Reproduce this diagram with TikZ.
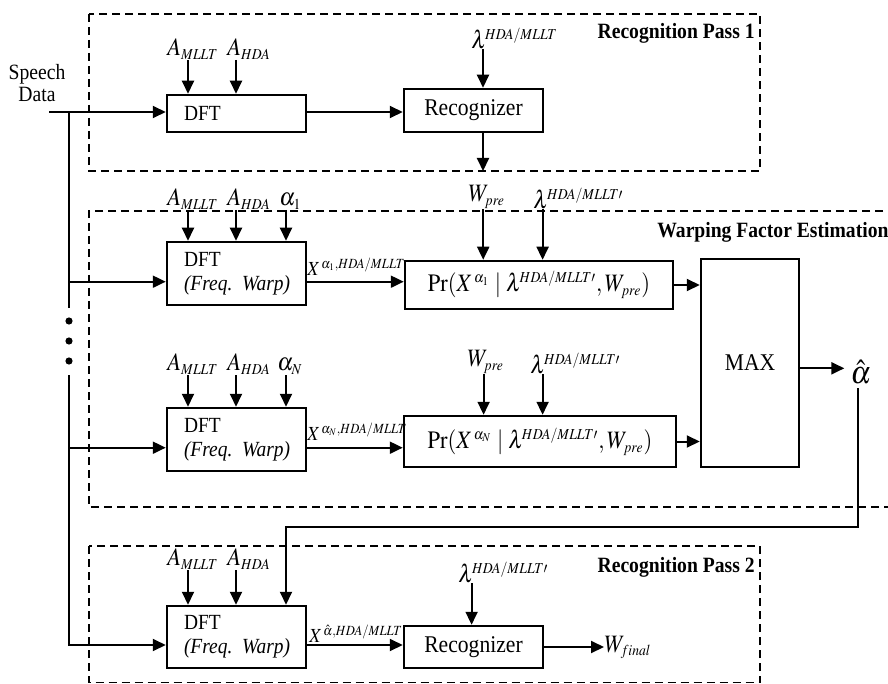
\documentclass[tikz,border=0pt]{standalone}
\usepackage{mathptmx}
\usepackage{fontspec}
\setmainfont{Liberation Serif}
\newfontfamily\tnr{Liberation Serif}
\usepackage{graphicx}
\usetikzlibrary{arrows.meta}
\DeclareMathSizes{12.5}{12.5}{7.6}{6}
\DeclareMathSizes{10}{10}{7}{5}
\DeclareMathSizes{16}{16}{11}{8}
\newcommand{\sq}[1]{\scalebox{0.9}[1]{#1}}
\newcommand{\inarr}[3]{\path ([xshift=#2]#1.south west) coordinate (tmpa); \draw[arr] (tmpa) -- (tmpa |- #3.north);}
\begin{document}
\begin{tikzpicture}[x=0.5pt,y=-0.5pt,
  box/.style={draw, line width=1.25pt, inner sep=0pt},
  dftbox/.style={box, minimum width=69.5pt, text width=52.5pt, inner xsep=8.5pt, align=left, font=\tnr\fontsize{10.8}{12}\selectfont},
  recbox/.style={box, font=\tnr\fontsize{12}{14}\selectfont},
  prbox/.style={box, font=\tnr\fontsize{12.5}{14}\selectfont},
  arr/.style={line width=1pt, -{Triangle[length=6.5pt,width=6pt]}},
  ln/.style={line width=1pt},
  dbox/.style={line width=0.8pt, dash pattern=on 4pt off 2.5pt},
  mlab/.style={font=\tnr\fontsize{12.5}{14}\selectfont, inner sep=0pt},
  xlab/.style={font=\tnr\fontsize{10}{12}\selectfont, inner sep=0pt},
  tlab/.style={font=\tnr\fontsize{10.9}{11}\selectfont, inner sep=0pt},
]
\useasboundingbox (0,0) rectangle (888,684);

% dashed frames
\draw[dbox] (89,14) rectangle (760,171);
\draw[dbox] (896,211) -- (89,211) -- (89,507) -- (896,507);
\draw[dbox] (89,546) rectangle (760,682.5);

% titles
\node[tlab, align=center] (speech) at (37,83) {\sq{Speech}\\\sq{Data}};
\node[tlab, anchor=east] (rp1) at (755,33) {\sq{\textbf{Recognition Pass 1}}};
\node[tlab, anchor=west] (wfe) at (657,232) {\sq{\textbf{Warping Factor Estimation}}};
\node[tlab, anchor=east] (rp2) at (755,567) {\sq{\textbf{Recognition Pass 2}}};

% boxes
\node[dftbox, minimum height=18.5pt] (dft1) at (236.5,113.5) {\sq{DFT}};
\node[recbox, minimum width=69.5pt, minimum height=21.5pt] (rec1) at (473.5,110.5) {\sq{Recognizer}};
\node[dftbox, minimum height=31.5pt] (dft2) at (236.5,273.5) {\sq{DFT}\\\sq{\textit{(Freq. Warp)}}};
\node[dftbox, minimum height=31.5pt] (dftN) at (236.5,439.5) {\sq{DFT}\\\sq{\textit{(Freq. Warp)}}};
\node[dftbox, minimum height=31pt] (dft3) at (236.5,637) {\sq{DFT}\\\sq{\textit{(Freq. Warp)}}};
\node[prbox, minimum width=134pt, minimum height=24pt] (pr1) at (539,285) {\sq{$\mathrm{Pr}(X^{\,\alpha_1}\mid\lambda^{\!HDA/MLLT\prime},W_{pre})$}};
\node[prbox, minimum width=136pt, minimum height=25.5pt] (prN) at (540,441.5) {\sq{$\mathrm{Pr}(X^{\,\alpha_N}\mid\lambda^{\!HDA/MLLT\prime},W_{pre})$}};
\node[recbox, minimum width=49pt, minimum height=104pt] (max) at (750,363) {\raisebox{-4.5pt}{\sq{MAX}}};
\node[recbox, minimum width=69.5pt, minimum height=21pt] (rec2) at (473.5,647) {\sq{Recognizer}};

% section 1 inputs
\node[mlab, anchor=south west] (am1) at (167,60) {\sq{$A_{MLLT}$}};
\node[mlab, anchor=south west] (ah1) at (227,60) {\sq{$A_{HDA}$}};
\node[mlab, anchor=south west] (lam1) at (471,49) {\sq{$\lambda^{\!HDA/MLLT}$}};
\inarr{am1}{10.5pt}{dft1}
\inarr{ah1}{4.5pt}{dft1}
\inarr{lam1}{6pt}{rec1}

% section 2 inputs
\node[mlab, anchor=south west] (am2) at (167,210) {\sq{$A_{MLLT}$}};
\node[mlab, anchor=south west] (ah2) at (227,210) {\sq{$A_{HDA}$}};
\node[mlab, anchor=south west] (al1) at (279,210) {\sq{$\alpha_1$}};
\node[mlab, anchor=south west] (wp1) at (468,209) {\sq{$W_{pre}$}};
\node[mlab, anchor=south west] (lp1) at (533,209) {\sq{$\lambda^{\!HDA/MLLT\prime}$}};
\inarr{am2}{10.5pt}{dft2}
\inarr{ah2}{4.5pt}{dft2}
\inarr{al1}{3.5pt}{dft2}
\inarr{wp1}{7.6pt}{pr1}
\inarr{lp1}{4.8pt}{pr1}

% section N inputs
\node[mlab, anchor=south west] (am3) at (167,375) {\sq{$A_{MLLT}$}};
\node[mlab, anchor=south west] (ah3) at (227,375) {\sq{$A_{HDA}$}};
\node[mlab, anchor=south west] (alN) at (277,375) {\sq{$\alpha_N$}};
\node[mlab, anchor=south west] (wp2) at (467,374) {\sq{$W_{pre}$}};
\node[mlab, anchor=south west] (lp2) at (530,374) {\sq{$\lambda^{\!HDA/MLLT\prime}$}};
\inarr{am3}{10.5pt}{dftN}
\inarr{ah3}{4.5pt}{dftN}
\inarr{alN}{4.5pt}{dftN}
\inarr{wp2}{8.3pt}{prN}
\inarr{lp2}{6.3pt}{prN}

% section 3 inputs
\node[mlab, anchor=south west] (am4) at (167,570) {\sq{$A_{MLLT}$}};
\node[mlab, anchor=south west] (ah4) at (227,570) {\sq{$A_{HDA}$}};
\node[mlab, anchor=south west] (lp3) at (458,583) {\sq{$\lambda^{\!HDA/MLLT\prime}$}};
\inarr{am4}{10.5pt}{dft3}
\inarr{ah4}{4.5pt}{dft3}
\inarr{lp3}{6.8pt}{rec2}

% feature labels
\node[xlab, anchor=south west] (x1) at (307,276) {\sq{$X^{\,\alpha_1,HDA/MLLT}$}};
\node[xlab, anchor=south west] (xN) at (307,441) {\sq{$X^{\,\alpha_N,HDA/MLLT}$}};
\node[xlab, anchor=south west] (x3) at (309,643) {\sq{$X^{\,\hat{\alpha},HDA/MLLT}$}};

% outputs
\node[mlab, anchor=base west] (wfin) at (604,652) {\sq{$W_{final}$}};
\node[font=\tnr\fontsize{16}{18}\selectfont, inner sep=3pt] (ahat) at (861,372) {\sq{$\hat{\alpha}$}};

% speech data distribution
\coordinate (sp) at (49,112);
\coordinate (j) at (69,112);
\coordinate (t1) at (69,308);
\coordinate (t2) at (69,375);
\coordinate (b1) at (69,281.7);
\coordinate (b2) at (69,447.7);
\coordinate (b3) at (69,645);
\draw[arr] (sp) -- (sp -| dft1.west);
\draw[ln] (j) -- (t1);
\draw[arr] (t2) -- (b3) -- (b3 -| dft3.west);
\draw[arr] (b1) -- (b1 -| dft2.west);
\draw[arr] (b2) -- (b2 -| dftN.west);
\fill (69,321) circle (3.6);
\fill (69,341) circle (3.6);
\fill (69,361) circle (3.6);

% main flow
\draw[arr] (dft1.east |- sp) -- (rec1.west |- sp);
\coordinate (w1) at (483,171);
\draw[arr] ([xshift=4.75pt]rec1.south) -- (w1);
\draw[arr] (dft2.east |- b1) -- (pr1.west |- b1);
\draw[arr] (dftN.east |- b2) -- (prN.west |- b2);
\draw[arr] (dft3.east |- b3) -- (rec2.west |- b3);
\draw[arr] (pr1.east) -- (pr1.east -| max.west);
\draw[arr] (prN.east) -- (prN.east -| max.west);
\coordinate (m) at (799,368.3);
\draw[arr] (max.east |- m) -- (ahat.west |- m);
\draw[arr] (rec2.east) -- (wfin.west |- rec2.east);

% feedback
\coordinate (fb1) at (858.3,388);
\coordinate (fb2) at (858.3,526.7);
\coordinate (fb3) at (286,526.7);
\draw[arr] (fb1) -- (fb2) -- (fb3) -- (fb3 |- dft3.north);
\end{tikzpicture}
\end{document}
